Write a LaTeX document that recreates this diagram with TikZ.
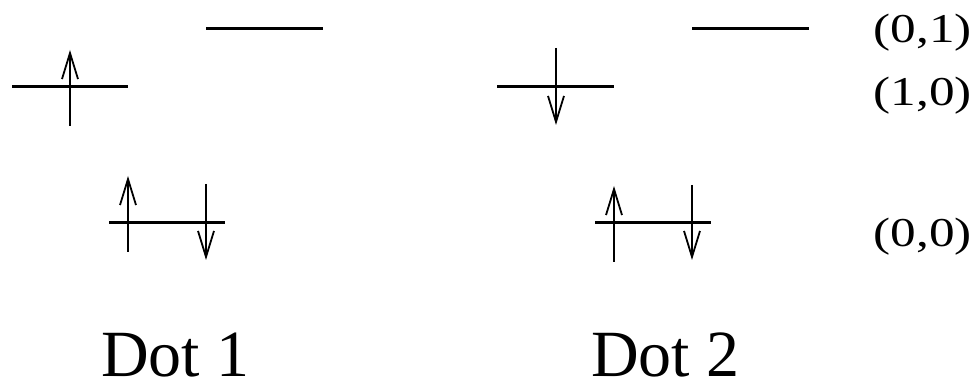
\documentclass[tikz,border=0pt]{standalone}
\usepackage{fontspec}
\usepackage{graphicx}
\setmainfont{Liberation Serif}
\usetikzlibrary{arrows.meta}
\begin{document}
\begin{tikzpicture}[x=1pt,y=-1pt,
  level/.style={line width=3pt},
  spin/.style={line width=1.8pt,
    -{Straight Barb[length=26pt,width=16pt,line width=1.8pt]}},
  statelbl/.style={anchor=base west,inner sep=0pt,
    font=\fontsize{41}{41}\selectfont},
  dotlbl/.style={anchor=base west,inner sep=0pt,
    font=\fontsize{66}{66}\selectfont}
]
\useasboundingbox (0,0) rectangle (977,387);

% ---- Dot 1 ----
\coordinate (a1l) at (12,87);   \coordinate (a1r) at (128,87);
\coordinate (b1l) at (206,29);  \coordinate (b1r) at (323,29);
\coordinate (c1l) at (109,223); \coordinate (c1r) at (225,223);
\draw[level] (a1l) -- (a1r);
\draw[level] (b1l) -- (b1r);
\draw[level] (c1l) -- (c1r);
\coordinate (s1a) at (70,126);  \coordinate (s1b) at (70,50);
\coordinate (s2a) at (128,252); \coordinate (s2b) at (128,176);
\coordinate (s3a) at (206,184); \coordinate (s3b) at (206,260);
\draw[spin] (s1a) -- (s1b);
\draw[spin] (s2a) -- (s2b);
\draw[spin] (s3a) -- (s3b);

% ---- Dot 2 ----
\coordinate (a2l) at (497,87);  \coordinate (a2r) at (614,87);
\coordinate (b2l) at (692,29);  \coordinate (b2r) at (809,29);
\coordinate (c2l) at (595,223); \coordinate (c2r) at (711,223);
\draw[level] (a2l) -- (a2r);
\draw[level] (b2l) -- (b2r);
\draw[level] (c2l) -- (c2r);
\coordinate (t1a) at (556,48);  \coordinate (t1b) at (556,125);
\coordinate (t2a) at (614,262); \coordinate (t2b) at (614,186);
\coordinate (t3a) at (692,185); \coordinate (t3b) at (692,260);
\draw[spin] (t1a) -- (t1b);
\draw[spin] (t2a) -- (t2b);
\draw[spin] (t3a) -- (t3b);

% ---- state labels ----
\node[statelbl] (l01) at (873.5,43)  {\scalebox{1.25}[1]{(0,1)}};
\node[statelbl] (l10) at (873.5,106) {\scalebox{1.25}[1]{(1,0)}};
\node[statelbl] (l00) at (873.5,247) {\scalebox{1.25}[1]{(0,0)}};

% ---- dot names ----
\node[dotlbl] (d1) at (101,376) {Dot 1};
\node[dotlbl] (d2) at (591,376) {Dot 2};
\end{tikzpicture}
\end{document}
